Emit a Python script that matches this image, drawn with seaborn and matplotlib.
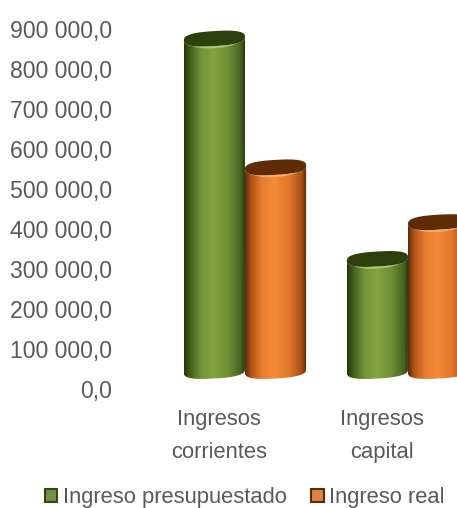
import numpy as np
import pandas as pd
import matplotlib
matplotlib.use('Agg')
import matplotlib.pyplot as plt
from matplotlib.colors import LinearSegmentedColormap
from matplotlib.patches import PathPatch, Polygon
from matplotlib.path import Path
from matplotlib.transforms import Affine2D
import seaborn as sns

categories = ['Ingresos\ncorrientes', 'Ingresos\ncapital']
ingreso_presupuestado = [831000, 280000]
ingreso_real = [509000, 372000]
series_names = ['Ingreso presupuestado', 'Ingreso real']
y_ticks = [0, 100000, 200000, 300000, 400000, 500000, 600000, 700000, 800000, 900000]
y_labels = ['0,0', '100 000,0', '200 000,0', '300 000,0', '400 000,0',
            '500 000,0', '600 000,0', '700 000,0', '800 000,0', '900 000,0']

TEXT_COLOR = '#595959'
GREEN_STOPS = ['#22340b', '#42601b', '#739338', '#84a341', '#6f8f35', '#46611e', '#1f2f0a']
ORANGE_STOPS = ['#5a2a08', '#b05418', '#ea7c2e', '#f58a38', '#e2752a', '#a44e16', '#4a2206']
STOP_POS = [0.0, 0.1, 0.28, 0.48, 0.72, 0.92, 1.0]

sns.set_theme(style='white')
plt.rcParams['font.family'] = ['Liberation Sans', 'DejaVu Sans']

df = pd.DataFrame({
    'categoria': categories * 2,
    'serie': [series_names[0]] * 2 + [series_names[1]] * 2,
    'valor': ingreso_presupuestado + ingreso_real,
})

W, H = 457, 508
fig = plt.figure(figsize=(W / 100, H / 100), dpi=100)
ax = fig.add_axes([118 / W, (H - 395) / H, (W - 118) / W, 395 / H])

palette = {series_names[0]: '#7b9b3c', series_names[1]: '#f07f30'}
sns.barplot(data=df, x='categoria', y='valor', hue='serie', hue_order=series_names,
            palette=palette, width=0.75, gap=0, dodge=True, ax=ax)

PX_X = 163.0            # pixels per category
PX_Y = 40.0 / 100000    # pixels per unit
ax.set_xlim((118 - 245) / PX_X, (W - 245) / PX_X)
ylim = (-24 / PX_Y, 371 / PX_Y)
ax.set_ylim(*ylim)
sns.despine(ax=ax, left=True, bottom=True)
ax.set_xlabel('')
ax.set_ylabel('')

# y labels sit lower than the bars, the chart was a 3D one
ax.set_yticks(y_ticks)
ax.set_yticklabels(y_labels, fontsize=16.6, color=TEXT_COLOR)
ax.tick_params(axis='y', length=0, pad=4)
for label in ax.get_yticklabels():
    label.set_transform(label.get_transform() + Affine2D().translate(0, -18))

ax.set_xticks([0, 1])
ax.set_xticklabels(categories, fontsize=15.8, color=TEXT_COLOR, linespacing=1.75)
ax.tick_params(axis='x', length=0, pad=10)
for label in ax.get_xticklabels():
    label.set_transform(label.get_transform() + Affine2D().translate(-26, 0))

# legend first, so it keeps the flat colours of the bars
sns.move_legend(ax, 'lower left', bbox_to_anchor=(38 / W, -7 / H),
                bbox_transform=fig.transFigure, ncols=2, title=None, frameon=False,
                fontsize=15.8, handlelength=0.58, handleheight=0.58,
                handletextpad=0.26, columnspacing=1.1, borderpad=0.3, borderaxespad=0)
legend = ax.get_legend()
for text in legend.get_texts():
    text.set_color(TEXT_COLOR)
for handle, edge in zip(legend.legend_handles, ['#34491a', '#5a2a08']):
    handle.set_edgecolor(edge)
    handle.set_linewidth(1.5)


def cylinder(x0, width, top, stops, cap_color, light_color, zorder):
    """Replace a flat bar by a shaded cylinder"""
    xc = x0 + width / 2
    a = width / 2
    b = 7.5 / PX_Y      # semi-height of the ellipse
    tilt = 1.8 / PX_Y   # right side is a bit higher than the left one
    t = np.linspace(np.pi, 0, 80)
    # superellipse, the caps of the reference have round shoulders
    cos_t = np.sign(np.cos(t)) * np.abs(np.cos(t)) ** 0.75
    sin_t = np.sin(t) ** 0.75
    xs = xc + a * cos_t
    skew = tilt * cos_t

    upper = top + b * sin_t + skew
    lower = top - b * sin_t + skew
    base_y = 0 - b * sin_t + skew

    body = np.vstack([np.column_stack([xs, lower]), np.column_stack([xs[::-1], base_y[::-1]])])
    cmap = LinearSegmentedColormap.from_list('cyl', list(zip(STOP_POS, stops)))
    gradient = np.linspace(0, 1, 256).reshape(1, -1)
    img = ax.imshow(gradient, cmap=cmap, aspect='auto', origin='lower',
                    extent=(x0, x0 + width, base_y.min(), upper.max()), zorder=zorder)
    clip = PathPatch(Path(body), transform=ax.transData, facecolor='none', edgecolor='none')
    ax.add_patch(clip)
    img.set_clip_path(clip)

    cap = np.vstack([np.column_stack([xs, upper]), np.column_stack([xs[::-1], lower[::-1]])])
    ax.add_patch(Polygon(cap, closed=True, facecolor=cap_color, edgecolor='none', zorder=zorder + 0.1))

    # thin light crescent under the front rim of the cap
    keep = (t > 0.9) & (t < 2.3)
    shine = np.vstack([np.column_stack([xs[keep], lower[keep]]),
                       np.column_stack([xs[keep][::-1],
                                        (lower[keep] - 2.0 / PX_Y * np.sin(t[keep]) ** 6)[::-1]])])
    ax.add_patch(Polygon(shine, closed=True, facecolor=light_color, edgecolor='none',
                         alpha=0.7, zorder=zorder + 0.2))


bars = [p for p in ax.patches if p.get_height() > 0]
bars = sorted(bars, key=lambda p: p.get_x())
for i, bar in enumerate(bars):
    bar.set_visible(False)
    is_green = bar.get_facecolor()[1] > bar.get_facecolor()[0]
    if is_green:
        cylinder(bar.get_x(), bar.get_width(), bar.get_height(), GREEN_STOPS, '#2d3f0c', '#c3d68a', 3 + i)
    else:
        cylinder(bar.get_x(), bar.get_width(), bar.get_height(), ORANGE_STOPS, '#5f2c06', '#fbc08c', 3 + i)

ax.set_xlim((118 - 245) / PX_X, (W - 245) / PX_X)
ax.set_ylim(*ylim)

plt.savefig('out.png', dpi=100)
